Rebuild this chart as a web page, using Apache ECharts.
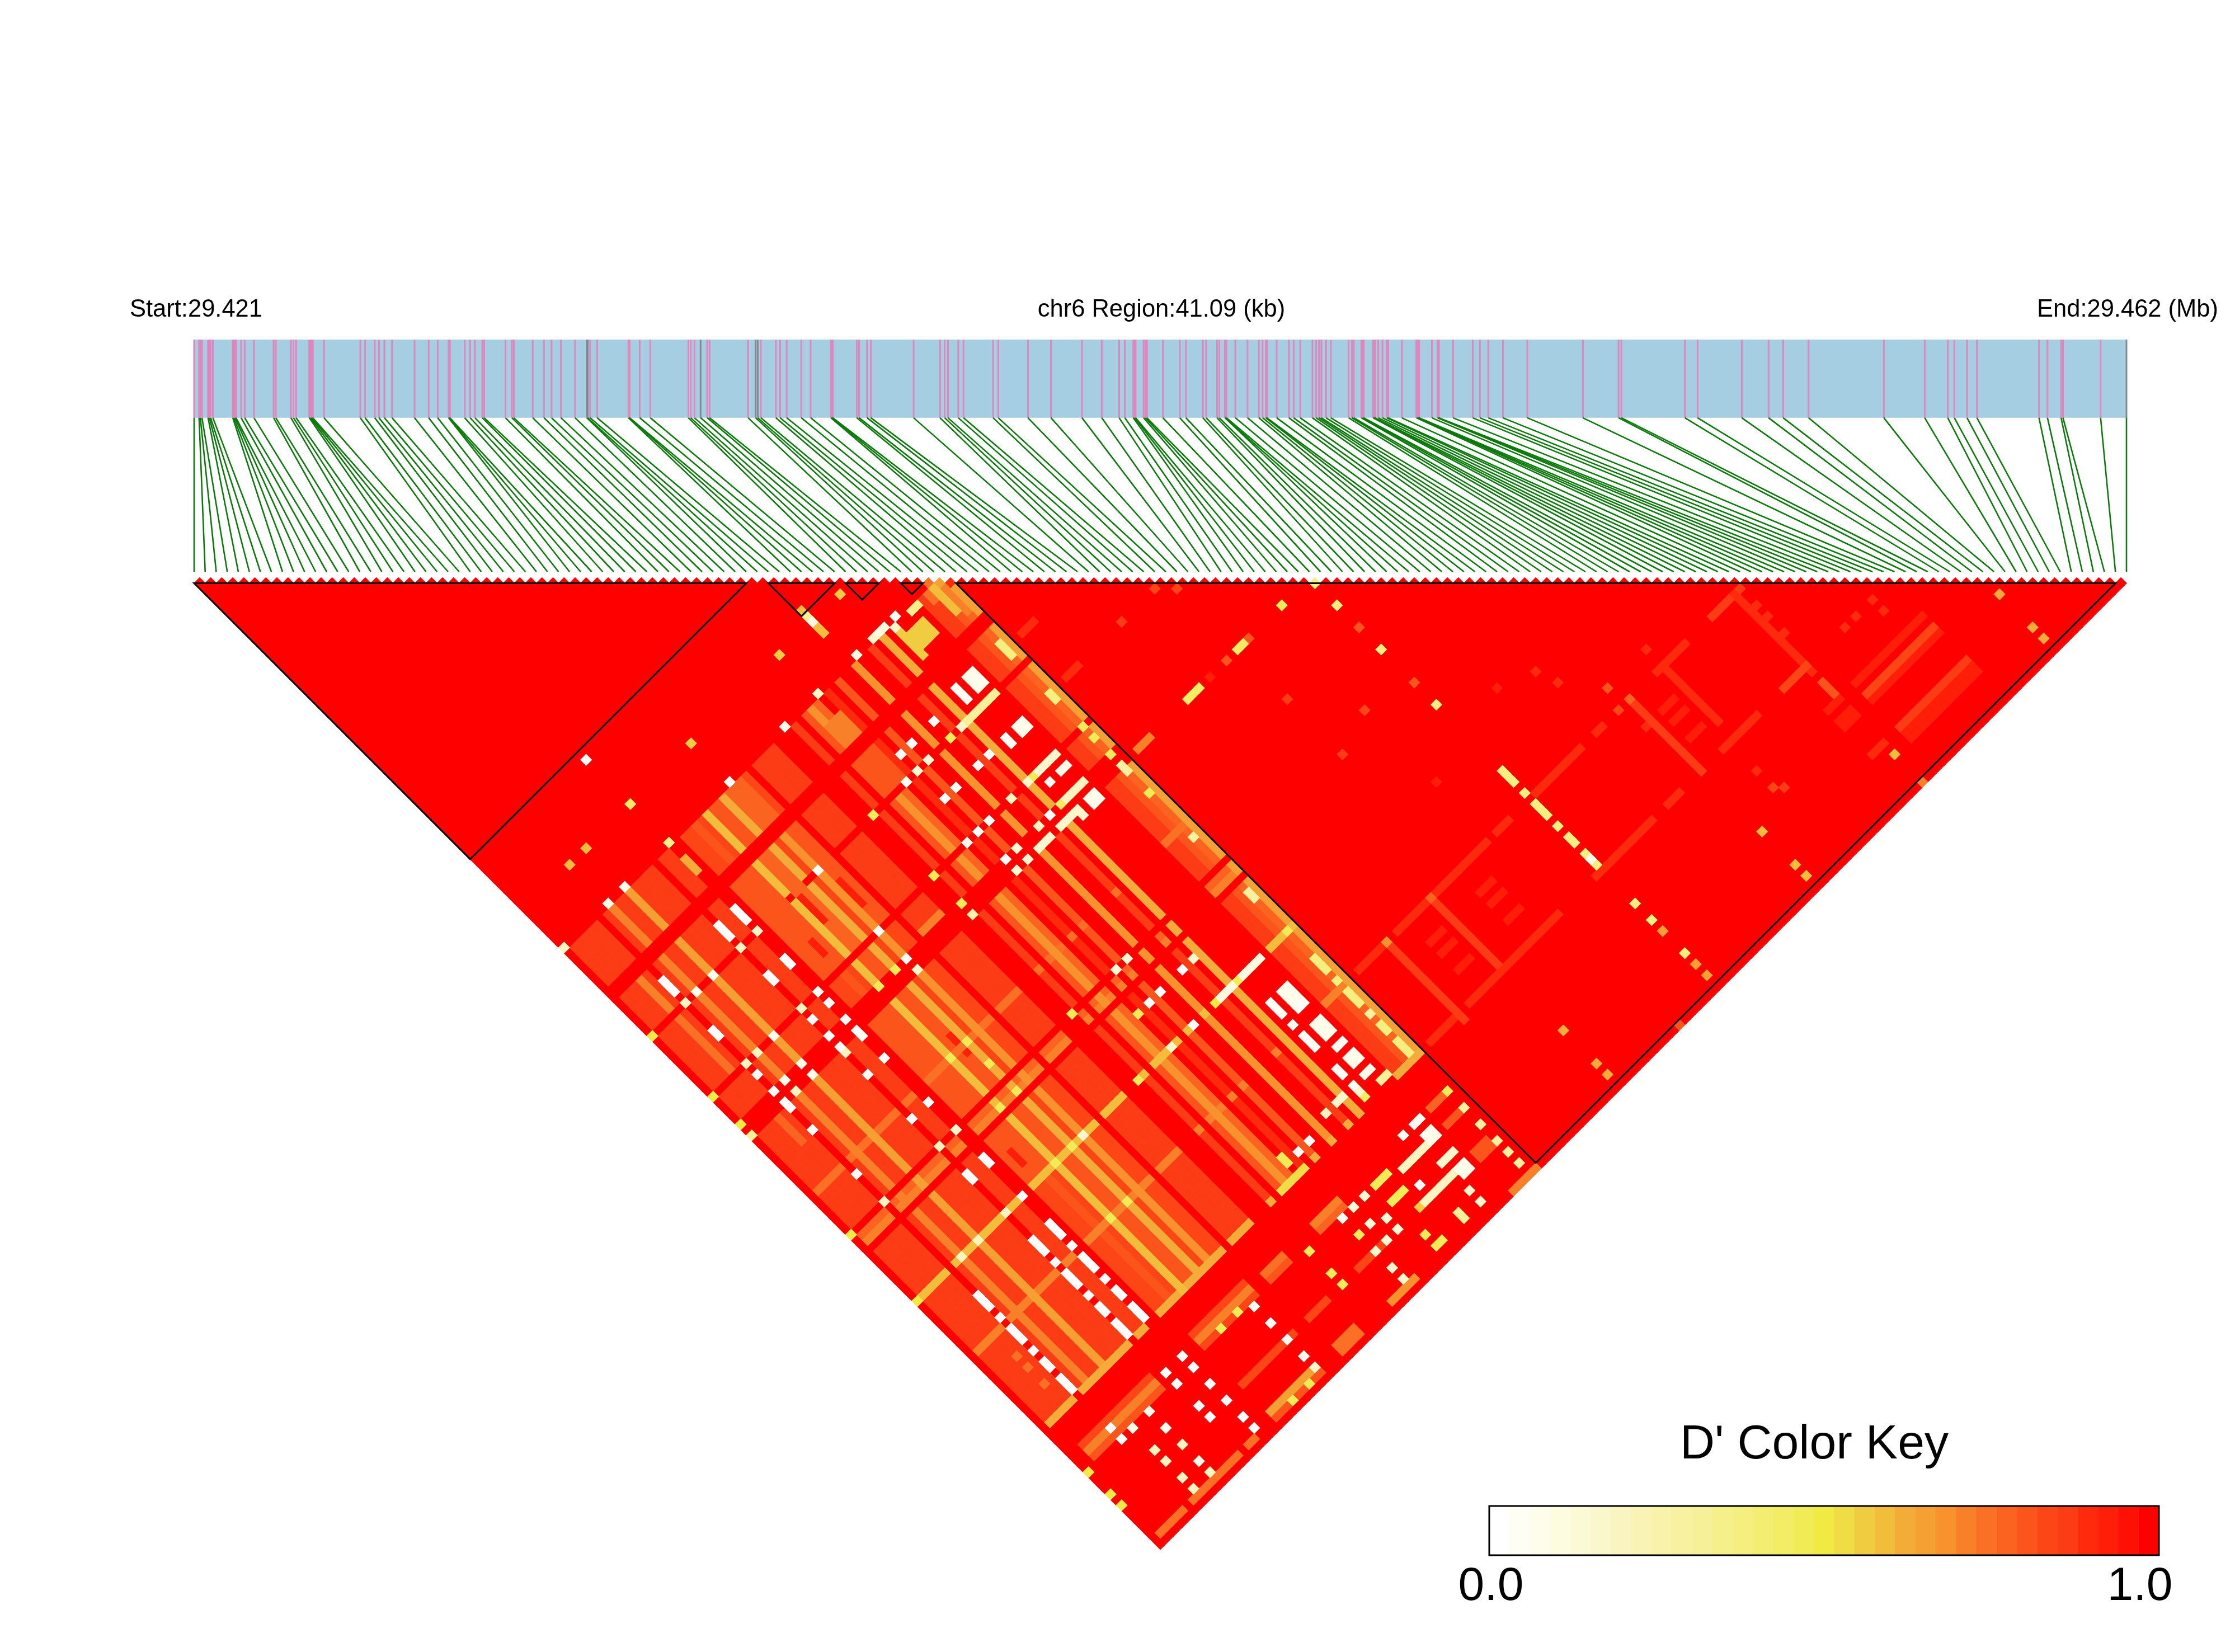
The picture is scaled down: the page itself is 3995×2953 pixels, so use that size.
<!DOCTYPE html>
<html>
<head>
<meta charset="utf-8">
<title>LD heatmap chr6</title>
<style>html,body{margin:0;padding:0;background:#fff}#main{width:3995px;height:2953px}</style>
<script src="https://cdn.jsdelivr.net/npm/echarts@6/dist/echarts.min.js"></script>
</head>
<body>
<div id="main"></div>
<script>
// SNP positions in kb from the region start
const snpPositionsKb = [
0.00,0.105,0.132,0.167,0.296,0.324,0.351,0.399,0.822,0.843,0.870,0.890,1.00,1.075,1.273,1.69,1.737,2.058,2.113,2.167,
2.448,2.475,2.502,2.523,2.762,3.533,3.636,3.841,3.93,4.046,4.209,4.687,4.988,5.179,5.411,5.42,5.439,5.753,5.869,5.971,
6.128,6.169,6.62,6.757,6.798,7.2,7.44,7.6,7.8,8.1,8.35,8.37,8.42,8.57,9.235,9.255,9.26,9.475,9.7,
10.51,10.56,10.64,10.77,10.91,10.96,11.78,11.94,11.985,12.05,12.37,12.46,12.6,12.91,13.11,13.54,13.56,13.58,14.09,14.14,14.31,14.39,
15.3,15.86,15.96,16.03,16.25,16.36,16.99,17.1,17.73,18.22,18.88,19.3,19.67,19.79,19.97,20.0,20.02,20.19,20.23,20.26,20.6,
20.96,21.09,21.45,21.52,21.75,21.8,21.92,21.93,21.95,22.14,22.4,22.64,22.72,22.79,22.81,23.02,23.28,23.38,23.52,23.78,23.86,23.92,23.97,24.07,24.17,
24.55,24.62,24.66,24.82,24.85,24.87,25.07,25.09,25.11,25.18,25.27,25.36,25.39,25.68,25.99,26.02,26.03,26.05,26.32,26.44,26.45,26.47,26.77,27.19,27.34,27.52,27.83,28.35,29.53,30.29,30.35,
31.7,31.97,32.91,33.48,33.79,34.33,35.93,36.8,37.29,37.43,37.7,37.91,39.23,39.41,39.7,39.74,40.54,41.09];
const greyPositionsKb = [8.35,8.37,10.77,11.94,11.985,41.09];
const regionLengthKb = 41.09;

// Haplotype blocks as first and last SNP index
const ldBlocks = [[0,50],[52,58],[59,62],[64,66],[69,174]];

// D' colour key, 33 steps from 0 to 1
const colorKey = ['#FFFFFF','#FFFEF4','#FEFDEC','#FDFBE0','#FCF9D5','#FBF7CC','#FAF5C0','#F9F4B5','#F8F2AA','#F7F1A0','#F6F198',
'#F5F08A','#F4EF7F','#F3EE72','#F2ED65','#F1EC55','#F0EA42','#F0DC45','#F0CD40','#F3BD3C','#F3AC38','#F5A032','#F7922D',
'#F88028','#FA7025','#FB6320','#FC551C','#FD4615','#FC3C14','#FE2A0C','#FF1E08','#FF1004','#FF0000'];
const keyTickLabels = ['0.0','1.0'];

// Column groups of the recombination-heavy area: first SNP, last SNP, D'
const fieldColumns = [[1,5,.875],[7,7,.875],[8,8,.72],[9,10,.875],[11,11,.65],[12,15,.875],[17,18,.875],
[21,22,.85],[23,23,.8],[24,24,.85],[25,25,.6],[26,27,.82],[28,28,.62],[29,29,.85],[30,30,.7],[31,32,.85],
[34,37,.875],[41,41,.875],[43,43,.82],[44,44,.7],[45,45,.78],[47,47,.92],[49,49,.82],[52,52,.68],[55,55,.88],[57,57,.62],
[64,65,.875],[66,66,.82],[67,67,.78],[68,68,.66]];
// Partner SNP ranges of the same area
const fieldRows = [[68,74],[77,82],[84,93],[95,98],[102,118],[120,121],[123,153],[154,154]];
// Partner SNPs with a lower D' across those columns
const rowStripes = [[112,.75],[120,.78],[121,.72],[131,.6],[141,.72],[154,.62]];

// Explicit rectangles: first i, last i, first j, last j, D'
const lowerStripes = [[4,4,77,82,.72],[4,4,84,93,.75],[4,4,102,106,.78],
[21,24,102,118,.8],[21,24,77,93,.82],[26,27,77,93,.78],[31,32,77,93,.82],[29,31,68,74,.78],[21,24,123,130,.8],[26,27,123,130,.8],
[26,26,84,88,.94],[23,23,89,91,.94],[31,31,86,90,.94],[22,22,126,128,.94],[27,27,110,113,.94],
[34,37,98,98,.72],[44,46,71,74,.72],[43,46,77,82,.82],[66,66,68,72,.58],[67,67,69,73,.72],[65,65,68,69,.75],
[1,5,174,174,.75],[7,15,174,174,.76],[17,18,174,174,.76],[22,30,173,173,.66],[22,30,174,174,.8],[34,37,173,174,.76],[43,47,174,174,.68],
[2,14,159,159,.85],[2,14,160,160,.72],[2,14,161,161,.82],[22,31,159,159,.85],[22,31,160,160,.72],[22,31,161,161,.85],
[34,37,160,160,.75],[34,37,161,161,.8],[34,37,168,168,.85],[22,31,168,168,.85],[43,47,160,160,.72],[43,47,161,161,.78],[43,47,168,168,.85],
[64,66,160,160,.78],[64,66,163,163,.8],[64,66,168,169,.82],[64,68,175,175,.72],[60,62,70,72,.56],[59,59,69,73,.56]];
const faintStripes = [[70,74,141,141,.9],[77,82,141,141,.9],[84,93,141,141,.9],[95,97,141,141,.9],[102,110,141,141,.9],[113,114,141,141,.92],[124,129,141,141,.91],[134,139,141,141,.88],
[75,75,141,155,.86],[75,75,141,141,.7],[83,83,141,154,.87],[83,83,141,141,.78],[119,119,141,154,.86],[119,119,141,141,.78],[125,125,141,151,.9],[138,138,141,155,.9],
[70,74,154,154,.9],[77,93,154,154,.9],[100,110,154,154,.9],[113,115,154,154,.92],[123,129,154,154,.9],[134,138,154,154,.85],[138,138,157,159,.8],
[136,138,160,160,.93],[136,138,162,163,.93],[141,153,160,160,.95],[141,153,162,162,.85],[141,153,163,163,.95],[136,138,168,168,.9],[141,153,168,168,.88],[141,153,169,170,.93],
[79,81,145,145,.95],[79,81,147,147,.95],[79,81,150,150,.95],[88,90,145,145,.95],[88,90,147,147,.95],[88,90,150,150,.95],[121,123,145,145,.95],[121,123,147,147,.95],[121,123,150,150,.95],
[70,72,80,80,.9],[70,72,88,88,.9],[70,72,101,101,.72],[79,81,101,101,.45],[88,89,101,101,.45]];

// Partner rows with very low D' over a run of SNPs: first i, last i, j, D'
const paleRuns = [[56,58,67,.1],[62,63,68,.35],[57,62,83,.3],[57,62,94,.15],[58,58,94,.48],[61,62,96,.06],[58,62,99,.2],[58,58,99,.45],[52,54,101,.15],[56,58,101,.15],
[54,54,131,.5],[55,57,131,.1],[58,58,131,.48],[59,62,131,.1],[61,62,139,.02],[61,62,146,.02],[56,57,151,.15],[61,62,151,.06],[62,63,153,.3],[61,62,160,.02],[56,60,163,.2],[60,62,166,.15],[55,60,168,.2],[52,54,162,.46],[52,53,173,.48],[52,53,165,.48],[43,47,154,.52]];

// Individual low-D' cells grouped by SNP: i, partner list, D'
const lowCells = [
[0,[67],.2],[0,[83,119,131,94,99,162,166,168],.5],[0,[101],.3],
[4,[145,147,150],.75],
[6,[79,80,81,88,89,96,99,101,102,106,114,136,137,138,140,142,143,144,146,148,149,151,152,153,160,162],.01],[6,[83,94,119],.2],
[8,[60],.6],[8,[67,83,99,162],.05],[8,[94,101,131,166,168,171,173],.2],
[11,[60],.6],[11,[67,83,94,99,101,162,165,171],.05],[11,[131,168,173],.18],
[16,[79,80,81,88,89,96,99,101,106,114,124,125,136,137,138,140,142,143,144,146,148,149,151,152,153,160,162,166,168],.01],[16,[83,94,102,119,131],.2],
[19,[52,79,80,81,88,89,94,96,99,101,102,106,114,124,125,131,136,137,138,140,142,143,144,146,148,149,151,152,153,160,162,165,168,171,173],.01],[19,[83,119],.15],[19,[60],.45],[19,[67],.35],[19,[70,71,72],.62],
[25,[99,112,121,131,141,161,174],.48],
[28,[99,112,116,121,131,141,161,174],.46],
[30,[67,83,94,99,162,165,168,171],.02],[30,[101,131,173],.15],[30,[60],.56],
[40,[67],.05],[40,[83,94,99,119,131,162,166,168],.48],[40,[101],.25],
[46,[60],.56],[46,[83,94,162],.02],[46,[67,131,168,171,173],.15],[46,[125,151,152,165],.48],
[48,[80,88,94,99,125,152],.01],[48,[83,101,119,162,165,168],.12],
[50,[80,88,94,125,131,152],.01],[50,[83,99,101,119,162,166,168],.12],
[52,[58,62],.6],[52,[59],.3],[52,[60],.1],[52,[61],.6],[52,[171],.48],
[53,[67],.1],
[54,[80,88,125],.01],[54,[83,165],.48],[54,[94,99,151],.2],[54,[168],.55],
[56,[88,99,166],.01],[56,[67,83,125],.15],
[57,[60],.56],[57,[172,173],.3],
[59,[79,80,81,88,89,96,136,137,138,140,142,143,144,148,149,151,160],.02],[59,[68,101,102,152],.15],[59,[153],.45],
[60,[67],.02],[60,[171,173],.15],
[61,[79,80,81,88,89,101,102,136,137,138,142,143,144,148,149,162,163,168,169],.06],
[62,[79,80,81,88,89,101,102,136,137,138,142,143,144,148,149,162,163,168,169],.06],
[67,[79,80,81,88,89,136,137,138,140,142,143,144,148,149,151,152,153],.36],[67,[94,96,99,106,131,160],.48],[67,[101,102,114,124,125,146,163,166,169,171,173],.28],
[101,[102,106,114,124,136,137,138,140,142,143,144,146,148,149,151,153,160,163,169],.38],[101,[152],.05],[101,[165,171,173],.66],
[96,[101],.48],[90,[101],.8],[119,[165,171,173],.58],[162,[165,171,173],.62],[83,[165,171,173],.64],[138,[170],.6],[138,[175],.72],[94,[175],.8],[66,[67],.75],[67,[68],.66],[68,[69],.9],
// near-complete LD scattered through the long block
[86,[88],.85],[88,[90],.85],[80,[88],.88],[101,[110,120],.8],[86,[101],.8],[83,[101],.95],[88,[110,120],.88],[94,[118],.85],[94,[131],.95],
[118,[138],.8],[117,[141],.85],[125,[138],.9],[139,[144,146],.9],[139,[149],.92],[150,[154,156],.92],[147,[154],.9],[145,[154],.9],[124,[159],.9],[124,[162],.85],[125,[163],.88],
[113,[130],.9],[114,[133],.9],[118,[145],.92],[108,[128],.94]
];

// Pairwise D' table, complete LD unless listed above
const SNP_COUNT = snpPositionsKb.length;
const dPrime = [];
for (let i = 0; i < SNP_COUNT; i++) { dPrime.push(new Array(SNP_COUNT).fill(1)); }
function fillRect(i0, i1, j0, j1, v) {
  for (let i = i0; i <= i1; i++) for (let j = Math.max(j0, i + 1); j <= j1 && j < SNP_COUNT; j++) dPrime[i][j] = v;
}
fieldColumns.forEach(([i0, i1, v]) => {
  fieldRows.forEach(([j0, j1]) => fillRect(i0, i1, j0, j1, v));
});
lowerStripes.forEach(r => fillRect(r[0], r[1], r[2], r[3], r[4]));
fieldColumns.forEach(([i0, i1, v]) => {
  rowStripes.forEach(([j, rv]) => fillRect(i0, i1, j, j, Math.min(v, rv)));
});
faintStripes.forEach(r => fillRect(r[0], r[1], r[2], r[3], r[4]));
paleRuns.forEach(([i0, i1, j, v]) => fillRect(i0, i1, j, j, v));
lowCells.forEach(([i, partners, v]) => partners.forEach(j => { dPrime[i][j] = v; }));

// One diamond per SNP pair; low D' drawn last so its edges stay clean
const cellData = [];
for (let i = 0; i < SNP_COUNT; i++) for (let j = i + 1; j < SNP_COUNT; j++) cellData.push([i, j, dPrime[i][j]]);
cellData.sort((a, b) => b[2] - a[2]);
const positionData = snpPositionsKb.map((kb, idx) => [kb, idx]);
const keyData = colorKey.map((c, k) => [k]);

const cellColor = v => colorKey[Math.round(v * (colorKey.length - 1))];
// Pair (i,j) sits at ((i+j)/2, (j-i)/2) on the matrix axes
const pairPoint = (api, i, j) => api.coord([(i + j) / 2, (j - i) / 2]);
const BAND_BOTTOM = 0.337;

const option = {
  animation: false,
  backgroundColor: '#fff',
  grid: [
    { left: 347, top: 1032.6, width: 3454, height: 1737, show: false },
    { left: 347, top: 607, width: 3454, height: 415, show: false },
    { left: 2662, top: 2692, width: 1197, height: 88, show: true, borderColor: '#000', borderWidth: 3, backgroundColor: 'transparent', z: 5 }
  ],
  xAxis: [
    { type: 'value', gridIndex: 0, min: 0, max: SNP_COUNT - 1, show: false },
    { type: 'value', gridIndex: 1, min: 0, max: regionLengthKb, show: false },
    { type: 'value', gridIndex: 2, min: 0, max: colorKey.length, show: false }
  ],
  yAxis: [
    { type: 'value', gridIndex: 0, min: 0, max: 88, inverse: true, show: false },
    { type: 'value', gridIndex: 1, min: 0, max: 1, inverse: true, show: false },
    { type: 'value', gridIndex: 2, min: 0, max: 1, show: false }
  ],
  graphic: { elements: [
    { type: 'text', z: 20, style: { text: 'Start:29.421', x: 232, y: 554, font: '43.5px "Liberation Sans"', textAlign: 'left', textVerticalAlign: 'middle', fill: '#000' } },
    { type: 'text', z: 20, style: { text: 'chr6 Region:41.09 (kb)', x: 2076, y: 554, font: '43.5px "Liberation Sans"', textAlign: 'center', textVerticalAlign: 'middle', fill: '#000' } },
    { type: 'text', z: 20, style: { text: 'End:29.462 (Mb)', x: 3965, y: 554, font: '43.5px "Liberation Sans"', textAlign: 'right', textVerticalAlign: 'middle', fill: '#000' } },
    { type: 'text', z: 20, style: { text: "D' Color Key", x: 3243, y: 2583, font: '86px "Liberation Sans"', textAlign: 'center', textVerticalAlign: 'middle', fill: '#000' } },
    { type: 'text', z: 20, style: { text: keyTickLabels[0], x: 2665, y: 2837, font: '84px "Liberation Sans"', textAlign: 'center', textVerticalAlign: 'middle', fill: '#000' } },
    { type: 'text', z: 20, style: { text: keyTickLabels[1], x: 3825, y: 2837, font: '84px "Liberation Sans"', textAlign: 'center', textVerticalAlign: 'middle', fill: '#000' } }
  ] },
  series: [
    { // LD matrix
      type: 'custom', xAxisIndex: 0, yAxisIndex: 0, coordinateSystem: 'cartesian2d', progressive: 0, silent: true, z: 2,
      encode: { x: 0, y: 1 }, clip: false,
      data: cellData,
      renderItem(params, api) {
        const i = api.value(0), j = api.value(1), c = cellColor(api.value(2));
        return { type: 'polygon', shape: { points: [
            pairPoint(api, i - .5, j - .5), pairPoint(api, i + .5, j - .5),
            pairPoint(api, i + .5, j + .5), pairPoint(api, i - .5, j + .5)] },
          style: { fill: c, stroke: c, lineWidth: 1.2 } };
      }
    },
    { // Block outlines
      type: 'custom', xAxisIndex: 0, yAxisIndex: 0, silent: true, z: 3, clip: false,
      encode: { x: 0, y: 1 },
      data: ldBlocks,
      renderItem(params, api) {
        const a = api.value(0), b = api.value(1);
        return { type: 'polygon', shape: { points: [
            pairPoint(api, a - .5, a + .5), pairPoint(api, a - .5, b + .5), pairPoint(api, b - .5, b + .5)] },
          style: { fill: 'none', stroke: '#000', lineWidth: 3 } };
      }
    },
    { // Region band
      type: 'custom', xAxisIndex: 1, yAxisIndex: 1, silent: true, z: 2, clip: false,
      encode: { x: 0, y: 1 },
      data: [[0, regionLengthKb]],
      renderItem(params, api) {
        const a = api.coord([api.value(0), 0]), b = api.coord([api.value(1), BAND_BOTTOM]);
        return { type: 'rect', shape: { x: a[0], y: a[1], width: b[0] - a[0], height: b[1] - a[1] }, style: { fill: '#A6CEE3' } };
      }
    },
    { // SNP markers inside the band
      type: 'custom', xAxisIndex: 1, yAxisIndex: 1, silent: true, z: 3, clip: false,
      encode: { x: 0, y: 1 },
      data: positionData,
      renderItem(params, api) {
        const kb = api.value(0), a = api.coord([kb, 0]), b = api.coord([kb, BAND_BOTTOM]);
        return { type: 'line', shape: { x1: a[0], y1: a[1], x2: b[0], y2: b[1] },
          style: { stroke: greyPositionsKb.includes(kb) ? '#82898F' : '#DF86BD', lineWidth: 3 } };
      }
    },
    { // Connectors from genomic position to matrix column
      type: 'custom', xAxisIndex: 1, yAxisIndex: 1, silent: true, z: 3, clip: false,
      encode: { x: 0, y: 1 },
      data: positionData,
      renderItem(params, api) {
        const a = api.coord([api.value(0), BAND_BOTTOM]);
        const b = api.coord([api.value(1) / (SNP_COUNT - 1) * regionLengthKb, 1]);
        return { type: 'line', shape: { x1: a[0], y1: a[1], x2: b[0], y2: b[1] }, style: { stroke: '#0B7A0B', lineWidth: 2.6 } };
      }
    },
    { // Colour key
      type: 'custom', xAxisIndex: 2, yAxisIndex: 2, silent: true, z: 2, clip: false,
      encode: { x: 0 },
      data: keyData,
      renderItem(params, api) {
        const k = api.value(0), a = api.coord([k, 1]), b = api.coord([k + 1, 0]);
        return { type: 'rect', shape: { x: a[0], y: a[1], width: b[0] - a[0], height: b[1] - a[1] },
          style: { fill: colorKey[k], stroke: colorKey[k], lineWidth: .6 } };
      }
    }
  ]
};
const chart = echarts.init(document.getElementById('main'), null, { renderer: 'canvas', width: 3995, height: 2953 });
chart.setOption(option);
</script>
</body>
</html>
